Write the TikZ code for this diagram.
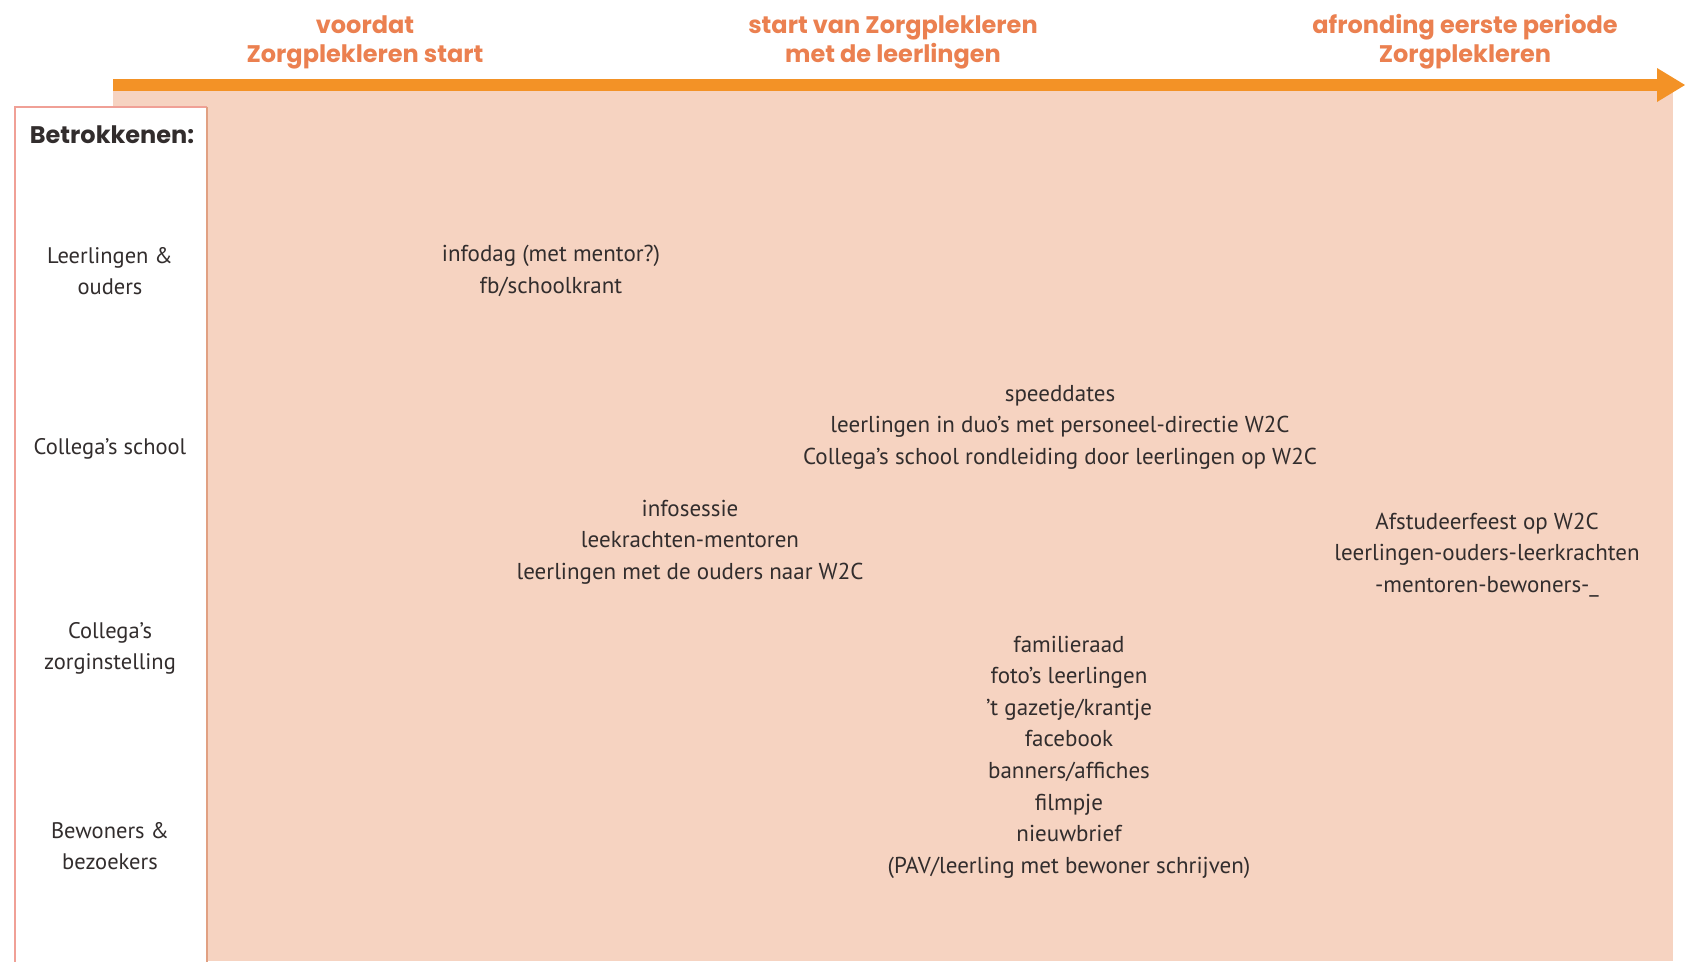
\documentclass[tikz,border=0pt]{standalone}
\usepackage{fontspec}
\setmainfont{PT Sans}
\newfontfamily\headfont{Poppins}
\definecolor{peach}{RGB}{246,211,193}
\definecolor{arroworange}{RGB}{243,146,38}
\definecolor{headorange}{RGB}{235,128,80}
\definecolor{boxpink}{RGB}{240,160,150}
\definecolor{boxright}{RGB}{225,160,130}
\definecolor{inkgray}{RGB}{50,45,45}
\begin{document}
\begin{tikzpicture}[x=1pt,y=-1pt,
  head/.style={font=\headfont\bfseries\fontsize{24}{29}\selectfont, text=headorange, align=center, inner sep=0pt},
  hand/.style={font=\fontsize{23}{31.6}\selectfont, text=inkgray, align=center, inner sep=0pt},
  rowlab/.style={font=\fontsize{22.5}{31}\selectfont, text=inkgray, align=center, inner sep=0pt}]
\useasboundingbox (0,0) rectangle (1685,961);
\fill[white] (0,0) rectangle (1685,961);
% peach field
\fill[peach] (113,91) rectangle (1673,961);
% arrow
\coordinate (as) at (113,85);
\coordinate (ae) at (1662,85);
\draw[arroworange, line width=12pt] (as) -- (ae);
\fill[arroworange] (1657,68) -- (1685,85) -- (1657,102) -- cycle;
% left column box
\fill[white] (15,107) rectangle (207,965);
\draw[boxpink, line width=2pt] (207,107) -- (15,107) -- (15,965);
\draw[boxright, line width=2pt] (207,107) -- (207,965);
% headers
\node[head] (h1) at (365,42) {voordat\\Zorgplekleren start};
\node[head] (h2) at (893,42) {start van Zorgplekleren\\met de leerlingen};
\node[head] (h3) at (1465,42) {afronding eerste periode\\Zorgplekleren};
% column title
\node[font=\headfont\bfseries\fontsize{24}{28}\selectfont, text=inkgray, inner sep=0pt] (bt) at (112,135) {Betrokkenen:};
% row labels
\node[rowlab] (r1) at (110,271) {Leerlingen \&\\ouders};
\node[rowlab] (r2) at (110,449) {Collega’s school};
\node[rowlab] (r3) at (110,648) {Collega’s\\zorginstelling};
\node[rowlab] (r4) at (110,846) {Bewoners \&\\bezoekers};
% contents
\node[hand] (c1) at (551,271) {infodag (met mentor?)\\fb/schoolkrant};
\node[hand] (c2) at (1060,427) {speeddates\\leerlingen in duo’s met personeel-directie W2C\\Collega’s school rondleiding door leerlingen op W2C};
\node[hand] (c3) at (690,542) {infosessie\\leekrachten-mentoren\\leerlingen met de ouders naar W2C};
\node[hand] (c4) at (1487,555) {Afstudeerfeest op W2C\\leerlingen-ouders-leerkrachten\\-mentoren-bewoners-\_};
\node[hand] (c5) at (1069,757) {familieraad\\foto’s leerlingen\\’t gazetje/krantje\\facebook\\banners/affiches\\filmpje\\nieuwbrief\\(PAV/leerling met bewoner schrijven)};
\end{tikzpicture}
\end{document}
